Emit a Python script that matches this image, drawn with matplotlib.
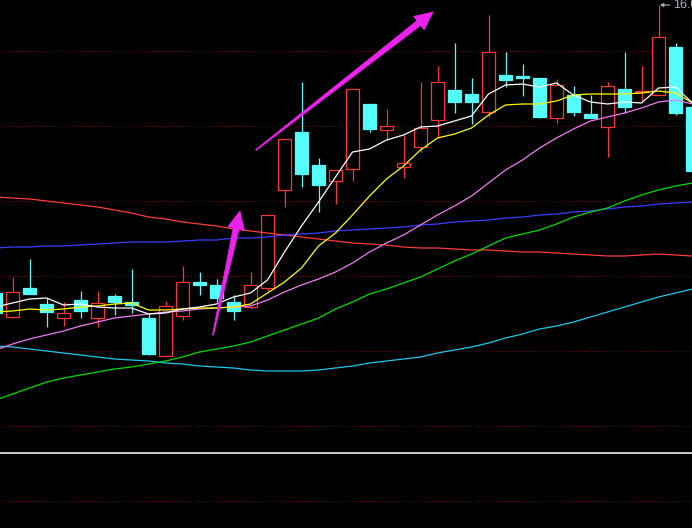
import matplotlib
matplotlib.use('Agg')
import matplotlib.pyplot as plt
from matplotlib.patches import Rectangle, Polygon
from matplotlib.lines import Line2D
from matplotlib.transforms import IdentityTransform
import numpy as np

plt.rcParams['font.family'] = ['Liberation Sans', 'DejaVu Sans']

# ---- daily candles (price) ----
opens = [13.18, 12.94, 13.23, 13.07, 12.93, 13.11, 12.93, 13.15, 13.09, 12.93,
         12.55, 12.95, 13.29, 13.26, 13.09, 13.04, 13.23, 14.21, 14.79, 14.46,
         14.30, 14.42, 15.07, 14.81, 14.44, 14.64, 14.91, 15.21, 15.17, 14.99,
         15.36, 15.35, 15.33, 14.93, 15.16, 14.97, 14.84, 15.22, 15.19, 15.16,
         15.64, 15.04]
closes = [12.98, 13.19, 13.17, 12.99, 12.98, 13.00, 13.08, 13.09, 13.06, 12.57,
          13.05, 13.29, 13.26, 13.13, 13.00, 13.26, 13.96, 14.72, 14.37, 14.26,
          14.41, 15.22, 14.82, 14.85, 14.48, 14.83, 15.29, 15.09, 15.09, 15.59,
          15.31, 15.33, 14.94, 15.26, 14.99, 14.93, 15.25, 15.04, 15.20, 15.74,
          14.98, 14.40]
highs = [13.18, 13.34, 13.52, 13.13, 13.09, 13.20, 13.20, 13.17, 13.42, 12.97,
         13.10, 13.45, 13.39, 13.32, 13.16, 13.39, 13.96, 14.72, 15.29, 14.53,
         14.41, 15.22, 15.07, 15.02, 14.76, 15.29, 15.45, 15.68, 15.33, 15.96,
         15.59, 15.47, 15.33, 15.32, 15.25, 15.16, 15.29, 15.59, 15.45, 16.06,
         15.68, 15.04]
lows = [12.98, 12.93, 13.17, 12.84, 12.85, 12.93, 12.84, 12.96, 12.98, 12.56,
        12.55, 12.91, 13.16, 13.09, 12.91, 13.02, 13.20, 14.04, 14.24, 13.99,
        14.07, 14.30, 14.79, 14.71, 14.33, 14.59, 14.73, 14.98, 14.87, 14.94,
        15.24, 15.15, 14.93, 14.88, 14.95, 14.93, 14.54, 14.98, 15.09, 15.16,
        14.96, 14.40]

# ---- moving averages (price) ----
ma5 = [13.04, 13.08, 13.12, 13.13, 13.06, 13.07, 13.04, 13.03, 13.03, 12.97,
       12.98, 13.02, 13.04, 13.07, 13.14, 13.18, 13.31, 13.59, 13.85, 14.09,
       14.34, 14.59, 14.62, 14.71, 14.76, 14.84, 14.85, 14.90, 14.95, 15.17,
       15.26, 15.27, 15.24, 15.28, 15.16, 15.09, 15.07, 15.09, 15.08, 15.23,
       15.24, 15.08]
ma10 = [12.99, 13.00, 13.02, 13.01, 13.02, 13.04, 13.05, 13.07, 13.08, 13.01,
        13.01, 13.02, 13.03, 13.03, 13.04, 13.07, 13.18, 13.29, 13.43, 13.65,
        13.78, 13.96, 14.15, 14.32, 14.45, 14.61, 14.73, 14.77, 14.83, 14.96,
        15.06, 15.07, 15.07, 15.10, 15.16, 15.17, 15.17, 15.17, 15.18, 15.20,
        15.18, 15.08]
ma20 = [12.61, 12.67, 12.72, 12.76, 12.80, 12.85, 12.89, 12.93, 12.95, 12.97,
        12.99, 13.00, 13.02, 13.03, 13.04, 13.05, 13.11, 13.19, 13.26, 13.32,
        13.39, 13.48, 13.59, 13.68, 13.76, 13.86, 13.96, 14.05, 14.15, 14.28,
        14.41, 14.51, 14.63, 14.73, 14.82, 14.90, 14.94, 14.98, 15.03, 15.09,
        15.11, 15.07]
ma60 = [12.11, 12.17, 12.23, 12.29, 12.33, 12.36, 12.39, 12.42, 12.44, 12.47,
        12.50, 12.54, 12.59, 12.62, 12.65, 12.69, 12.75, 12.81, 12.87, 12.93,
        13.02, 13.09, 13.17, 13.22, 13.28, 13.34, 13.42, 13.50, 13.57, 13.65,
        13.73, 13.77, 13.81, 13.87, 13.94, 13.99, 14.03, 14.10, 14.16, 14.21,
        14.25, 14.28]
ma120 = [12.65, 12.64, 12.62, 12.60, 12.58, 12.56, 12.54, 12.52, 12.51, 12.50,
         12.48, 12.47, 12.45, 12.44, 12.43, 12.41, 12.40, 12.40, 12.40, 12.41,
         12.43, 12.45, 12.48, 12.50, 12.52, 12.54, 12.58, 12.61, 12.64, 12.68,
         12.73, 12.77, 12.82, 12.85, 12.89, 12.94, 12.99, 13.04, 13.09, 13.14,
         13.18, 13.22]
ma_blue = [13.63, 13.64, 13.64, 13.65, 13.65, 13.66, 13.67, 13.68, 13.69, 13.69,
           13.69, 13.70, 13.71, 13.71, 13.73, 13.73, 13.74, 13.76, 13.77, 13.78,
           13.80, 13.81, 13.82, 13.83, 13.84, 13.86, 13.87, 13.89, 13.90, 13.91,
           13.93, 13.94, 13.96, 13.97, 13.99, 14.00, 14.02, 14.04, 14.05, 14.07,
           14.08, 14.09]
ma_red = [14.14, 14.13, 14.12, 14.10, 14.08, 14.06, 14.04, 14.01, 13.98, 13.94,
          13.92, 13.89, 13.87, 13.85, 13.82, 13.80, 13.78, 13.76, 13.74, 13.72,
          13.70, 13.68, 13.67, 13.66, 13.64, 13.63, 13.63, 13.62, 13.61, 13.61,
          13.60, 13.59, 13.59, 13.58, 13.57, 13.56, 13.55, 13.55, 13.56, 13.57,
          13.56, 13.55]

grid_levels = [15.60, 14.85, 14.10, 13.35, 12.60, 11.85]
high_label = "16.06"
high_index = 39

# annotation arrows: (tail index, tail price) -> (tip index, tip price)
arrows = [((15.32, 14.61), (25.74, 15.99)),
          ((12.79, 12.76), (14.38, 14.00))]

# ---- colours ----
UP = '#ff3434'
DOWN = '#54fcfc'
GRID = '#8a0000'
MA_STYLES = [(ma_red, '#ff3a3a'), (ma_blue, '#3c3cff'), (ma120, '#1ec8e8'),
             (ma60, '#00dc00'), (ma20, '#f07cf0'), (ma10, '#ffff00'),
             (ma5, '#ffffff')]

W, H = 692, 528
fig = plt.figure(figsize=(W / 100, H / 100), dpi=100, facecolor='black')
ax = fig.add_axes([0, 76 / H, 1, 452 / H])
ax.set_facecolor('black')
ax.set_axis_off()
ax.set_xlim(4.5 / 17, 696.5 / 17)
ax.set_ylim(11.59, 16.11)

for g in grid_levels:
    ax.axhline(g, color=GRID, lw=0.8, linestyle=(0, (1, 2.5)), zorder=0)

bw = 0.72
px1 = (ax.get_ylim()[1] - ax.get_ylim()[0]) / 452.0
for i, (o, c, h, l) in enumerate(zip(opens, closes, highs, lows)):
    if c >= o:
        top, bot = c, o
        ax.plot([i, i], [top, h], color=UP, lw=0.9, zorder=1, solid_capstyle='butt')
        ax.plot([i, i], [l, bot], color=UP, lw=0.9, zorder=1, solid_capstyle='butt')
        ax.add_patch(Rectangle((i - bw / 2, bot), bw, max(top - bot, px1),
                               facecolor='black', edgecolor=UP, lw=0.9, zorder=2))
    else:
        top, bot = o, c
        ax.plot([i, i], [l, h], color=DOWN, lw=0.9, zorder=1, solid_capstyle='butt')
        ax.add_patch(Rectangle((i - bw / 2, bot), bw, max(top - bot, px1),
                               facecolor=DOWN, edgecolor=DOWN, lw=0.9, zorder=2))

x = np.arange(len(opens))
for vals, col in MA_STYLES:
    ax.plot(x, vals, color=col, lw=0.9, zorder=3)

# magenta hand-drawn style arrows
fig.canvas.draw()
T = ax.transData
def draw_arrow(tail, tip, tail_w=1.0, shaft_w=6.0, head_len=18.0, head_w=17.0,
               color='#ee22ee'):
    p0 = T.transform(tail)
    p1 = T.transform(tip)
    d = p1 - p0
    u = d / np.hypot(*d)
    n = np.array([-u[1], u[0]])
    base = p1 - u * head_len
    pts = [p0 + n * tail_w / 2, base + n * shaft_w / 2, base + n * head_w / 2, p1,
           base - n * head_w / 2, base - n * shaft_w / 2, p0 - n * tail_w / 2]
    fig.add_artist(Polygon(pts, closed=True, transform=IdentityTransform(),
                           facecolor=color, edgecolor=color, lw=0.5, zorder=6))

for tail, tip in arrows:
    draw_arrow(tail, tip)

ax.annotate(high_label, xy=(high_index + 0.08, highs[high_index]),
            xytext=(9.6, 0), textcoords='offset points', va='center', ha='left',
            color='#aab4c4', fontsize=9,
            arrowprops=dict(arrowstyle='-|>', color='#aab4c4', lw=0.8,
                            mutation_scale=5, shrinkA=0.5, shrinkB=0),
            annotation_clip=False, zorder=7)

# lower (empty) indicator panel
ax2 = fig.add_axes([0, 0, 1, 75 / H])
ax2.set_facecolor('black')
ax2.set_axis_off()
ax2.set_xlim(0, 1)
ax2.set_ylim(0, 75)
ax2.axhline(27, color=GRID, lw=0.8, linestyle=(0, (1, 2.5)))

fig.add_artist(Line2D([0, 1], [75.5 / H, 75.5 / H], transform=fig.transFigure,
                      color='white', lw=1.1))

fig.savefig('out.png', dpi=100, facecolor='black')
